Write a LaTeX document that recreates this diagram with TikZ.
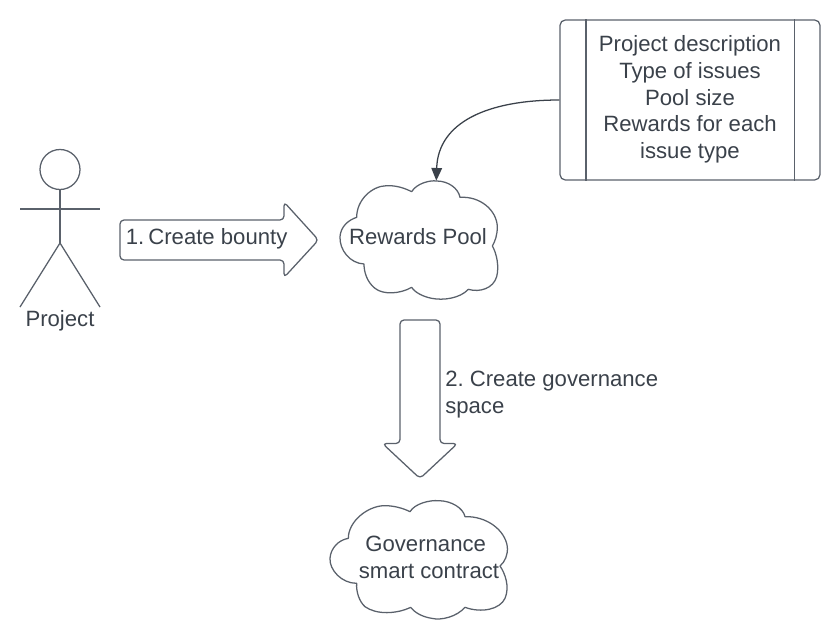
\documentclass[tikz,border=0pt]{standalone}
\usepackage{fontspec}
\setmainfont{Liberation Sans}
\usetikzlibrary{arrows.meta}
\definecolor{ink}{HTML}{3A414A}
\definecolor{edge}{HTML}{5A616B}
\frenchspacing
\tikzset{
  shapeline/.style={draw=edge,line width=0.95pt,line join=round},
  label/.style={text=ink,font=\frenchspacing\fontsize{16.6}{20}\selectfont,inner sep=0pt,align=center},
  lefttext/.style={label,align=left,anchor=west},
  blockarrow/.style={shapeline,rounded corners=3pt},
  connector/.style={draw=ink,line width=0.95pt,-{Triangle[length=9.5pt,width=8pt]}},
}
\begin{document}
\begin{tikzpicture}[x=0.75pt,y=-0.75pt]
\useasboundingbox (0,0) rectangle (840,640);
% actor
\node[shapeline,circle,minimum size=30pt,inner sep=0pt] (head) at (60,169.5) {};
\coordinate (hip) at (60,243);
\coordinate (armL) at (20,209);
\coordinate (armR) at (100,209);
\coordinate (footL) at (20,307);
\coordinate (footR) at (100,307);
\draw[shapeline] (head.south) -- (hip);
\draw[shapeline] (armL) -- (armR);
\draw[shapeline] (footL) -- (hip) -- (footR);
\node[label] (project) at (60,320.5) {Project};
% arrow 1
\draw[blockarrow] (120,220) -- (284,220) -- (284,202) -- (318.5,240) -- (284,277.5) -- (284,260) -- (120,260) -- cycle;
\node[lefttext] (step1) at (125.5,239) {1.\hspace{3.1pt}Create bounty};
% arrow 2
\draw[blockarrow] (400,320) -- (440,320) -- (440,443.5) -- (457.5,443.5) -- (420,478.5) -- (382.5,443.5) -- (400,443.5) -- cycle;
\node[lefttext] (step2) at (445,394.5) {2. Create governance\\space};
% spec box
\node[shapeline,rounded corners=4pt,minimum width=195pt,minimum height=120pt,inner sep=0pt] (spec) at (690,100) {};
\draw[shapeline] ([xshift=19.9pt]spec.north west) -- ([xshift=19.9pt]spec.south west);
\draw[shapeline] ([xshift=-19.7pt]spec.north east) -- ([xshift=-19.7pt]spec.south east);
\node[label] (spectext) at (690,99.5) {Project description\\Type of issues\\Pool size\\Rewards for each\\issue type};
% rewards cloud
\begin{scope}[shift={(320,170)},x=0.25pt,y=-0.25pt]
\draw[shapeline] (275,65) .. controls (290,40) and (330,30) .. (350,33)
  .. controls (385,33) and (415,55) .. (420,82)
  .. controls (480,78) and (530,120) .. (532,170)
  .. controls (532,195) and (525,215) .. (517,228)
  .. controls (530,250) and (538,290) .. (530,320)
  .. controls (520,355) and (480,368) .. (445,358)
  .. controls (420,385) and (370,392) .. (335,385)
  .. controls (310,380) and (285,368) .. (275,352)
  .. controls (240,372) and (190,375) .. (165,355)
  .. controls (140,335) and (132,305) .. (132,282)
  .. controls (90,280) and (58,240) .. (60,200)
  .. controls (62,170) and (85,150) .. (110,142)
  .. controls (110,90) and (155,48) .. (200,47)
  .. controls (230,46) and (255,55) .. (275,65) -- cycle;
\coordinate (pooltop) at (349,32);
\end{scope}
\node[label] (pool) at (418,236.5) {Rewards Pool};
% governance cloud
\begin{scope}[shift={(320,490)},x=0.25pt,y=-0.25pt]
\draw[shapeline] (270,65) .. controls (285,40) and (330,30) .. (355,32)
  .. controls (395,32) and (430,55) .. (435,80)
  .. controls (500,78) and (555,120) .. (562,170)
  .. controls (564,195) and (555,215) .. (540,228)
  .. controls (555,250) and (570,290) .. (555,325)
  .. controls (540,358) and (485,370) .. (435,352)
  .. controls (410,380) and (365,392) .. (335,385)
  .. controls (305,380) and (285,368) .. (272,352)
  .. controls (230,372) and (170,375) .. (135,350)
  .. controls (118,335) and (108,305) .. (110,280)
  .. controls (65,280) and (28,240) .. (30,205)
  .. controls (32,175) and (55,150) .. (85,145)
  .. controls (85,95) and (140,50) .. (190,47)
  .. controls (220,46) and (250,55) .. (270,65) -- cycle;
\end{scope}
\node[label] (gov) at (429,557.5) {Governance\hspace*{5pt}\\smart contract};
% connector
\draw[connector] (spec.west) .. controls (488,100) and (438,122) .. (pooltop);
\end{tikzpicture}
\end{document}
